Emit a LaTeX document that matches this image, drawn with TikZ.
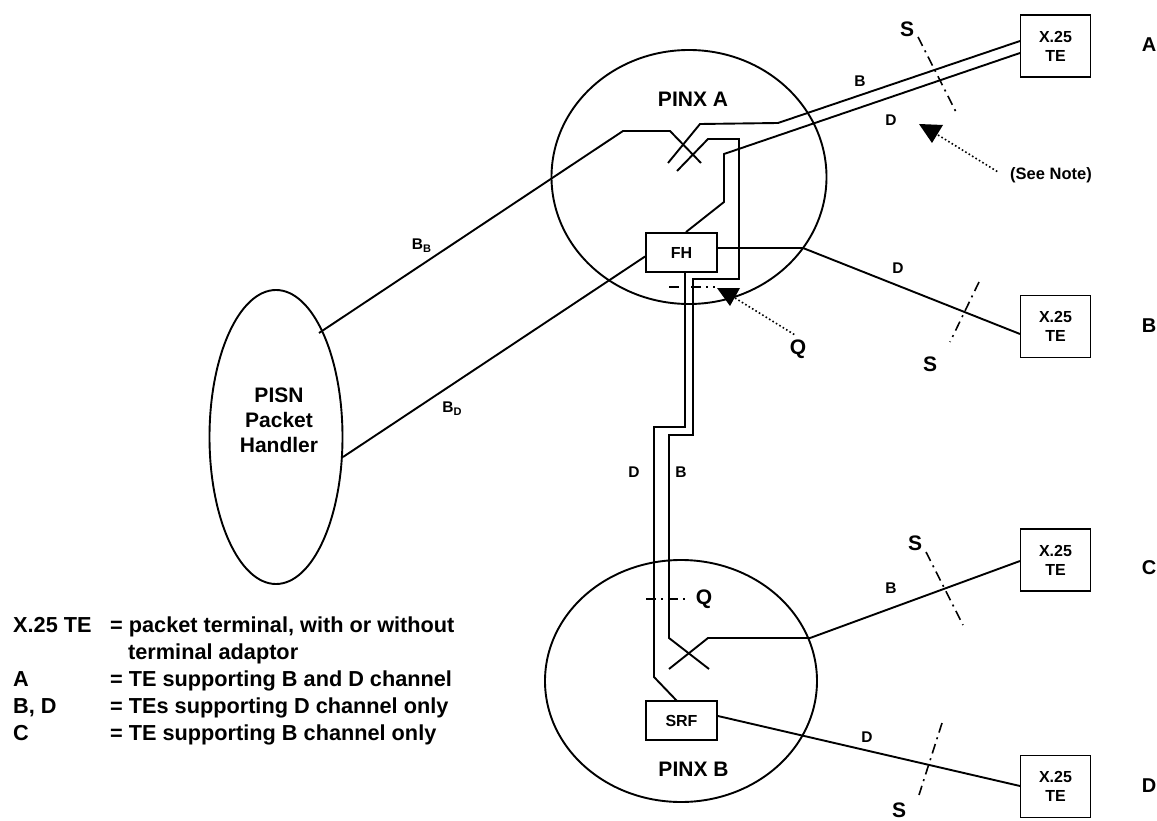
\documentclass[tikz,border=0pt]{standalone}
\usepackage{fontspec}
\setmainfont{Liberation Sans}
\usetikzlibrary{shapes.geometric}
\newcommand{\fsz}[2]{\fontsize{#1}{#2}\selectfont\bfseries}
\newcommand{\subsc}[1]{\raisebox{-3pt}{\fsz{11}{11}#1}}
\tikzset{
  wire/.style={line width=1.9pt,line join=miter},
  cloud/.style={draw,ellipse,line width=1.9pt,inner sep=0pt,align=center},
  termbox/.style={draw,rectangle,line width=1.9pt,minimum width=70pt,minimum height=62pt,inner sep=0pt,align=center,font=\fsz{16}{19}},
  unitbox/.style={draw,rectangle,line width=1.9pt,minimum width=71pt,minimum height=39pt,inner sep=0pt,font=\fsz{16}{19}},
  refline/.style={line width=1.6pt,dash pattern=on 10pt off 5pt on 2pt off 5pt},
  pointer/.style={line width=1.6pt,dash pattern=on 1.6pt off 2.4pt},
  tip/.style={fill=black,draw=none},
  chan/.style={font=\fsz{15.5}{18},inner sep=0pt},
  big/.style={font=\fsz{21}{25},inner sep=0pt},
  sidelabel/.style={font=\fsz{20}{22},inner sep=0pt},
  legend/.style={font=\fsz{21.7}{24},inner sep=0pt,anchor=base west}
}
\begin{document}
\begin{tikzpicture}[x=1pt,y=-1pt]
\useasboundingbox (0,0) rectangle (1157,821);
\node[cloud,minimum width=275pt,minimum height=254pt] (pinxa) at (689,177) {};
\node[cloud,minimum width=272pt,minimum height=242pt] (pinxb) at (681,681) {};
\node[cloud,minimum width=133pt,minimum height=294pt] (pisn) at (276,437) {};
\node[big,align=center] (pisnt) at (279,420) {PISN\\Packet\\Handler};
\node[unitbox] (fh) at (681.5,252.5) {FH};
\node[unitbox] (srf) at (681.5,720.5) {SRF};
\node[termbox] (tea) at (1055.5,46) {X.25\\TE};
\node[termbox] (teb) at (1055.5,326.5) {X.25\\TE};
\node[termbox] (tec) at (1055.5,560) {X.25\\TE};
\node[termbox] (ted) at (1055.5,786.5) {X.25\\TE};
\node[big] (pa) at (693,99) {PINX A};
\node[big] (pb) at (693.5,769) {PINX B};
% wires
\coordinate (pisnb) at (319,333);
\coordinate (pisnd) at (343,457);
\coordinate (teaB) at (1020,41);
\coordinate (teaD) at (1020,53);
\draw[wire] (pisnb) -- (623,131) -- (670,131) -- (701,163);
\draw[wire] (668,163) -- (700,124) -- (778,123) -- (teaB);
\draw[wire] (677,171) -- (708,139) -- (739,139) -- (739,279) -- (693,279) -- (693,435) -- (669,435) -- (669,638) -- (709,669);
\draw[wire] (fh.north) ++(4.5,0) -- (724,202) -- (724,154) -- (teaD);
\draw[wire] (fh.south) ++(3.5,0) -- (685,427) -- (654,427) -- (654,677) -- (677,701);
\draw[wire] (fh.west) ++(0,4) -- (pisnd);
\coordinate (tebin) at (1020,334);
\draw[wire] (fh.east) ++(0,-4.5) -- (803,248) -- (tebin);
\coordinate (tecin) at (1020,561);
\draw[wire] (669,669) -- (708,638) -- (810,638) -- (tecin);
\coordinate (tedin) at (1020,786);
\draw[wire] (srf.east) ++(0,-4.5) -- (tedin);
% reference points
\draw[refline] (918,37) -- (956,112);
\draw[refline] (979,282) -- (950,342);
\draw[refline] (926,552) -- (963,625);
\draw[refline] (942,723) -- (919,795);
\draw[refline] (669,287) -- (715,287);
\draw[refline] (646,599) -- (688,599);
\fill[tip] (717,288) -- (740,288) -- (730,306) -- cycle;
\draw[pointer] (735,298) -- (795,335);
\fill[tip] (919,124) -- (943,125) -- (932,143) -- cycle;
\draw[pointer] (938,135) -- (998,172);
% labels
\node[big] (s1) at (907,29) {S};
\node[big] (s2) at (930,364) {S};
\node[big] (s3) at (915,543) {S};
\node[big] (s4) at (899,810) {S};
\node[big] (q1) at (798,349) {Q};
\node[big] (q2) at (704,599) {Q};
\node[chan] (lb1) at (860,81) {B};
\node[chan] (ld1) at (891,120) {D};
\node[chan] (ld2) at (898,268) {D};
\node[chan] (lbb) at (421.5,246) {B\subsc{B}};
\node[chan] (lbd) at (452,409) {B\subsc{D}};
\node[chan] (ld3) at (634,472) {D};
\node[chan] (lb3) at (681,472) {B};
\node[chan] (lb4) at (891,588) {B};
\node[chan] (ld4) at (867,737) {D};
\node[chan,font=\fsz{16.5}{18}] (note) at (1051,175) {(See Note)};
\node[sidelabel] (la) at (1149,44.5) {A};
\node[sidelabel] (lbx) at (1149,326) {B};
\node[sidelabel] (lc) at (1149,568) {C};
\node[sidelabel] (ldx) at (1149,786) {D};
% legend
\node[legend] (k1) at (13,632) {X.25 TE};
\node[legend] (v1) at (110,632) {= packet terminal, with or without};
\node[legend] (v1b) at (128,659) {terminal adaptor};
\node[legend] (k2) at (13,686) {A};
\node[legend] (v2) at (110,686) {= TE supporting B and D channel};
\node[legend] (k3) at (13,713) {B, D};
\node[legend] (v3) at (110,713) {= TEs supporting D channel only};
\node[legend] (k4) at (13,740) {C};
\node[legend] (v4) at (110,740) {= TE supporting B channel only};
\end{tikzpicture}
\end{document}
